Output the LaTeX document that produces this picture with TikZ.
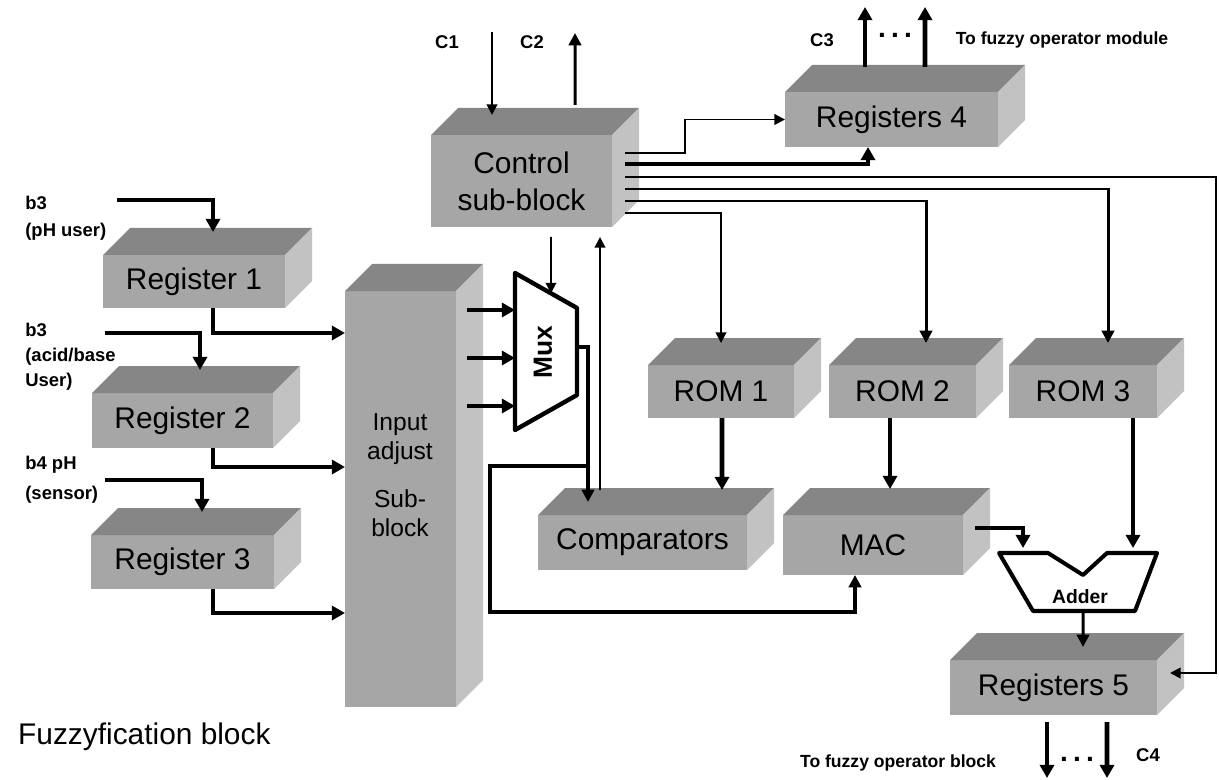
\documentclass[tikz,border=0pt]{standalone}
\usepackage{fontspec}
\setmainfont{Liberation Sans}
\usetikzlibrary{arrows.meta,calc}

\definecolor{frontgray}{RGB}{166,166,166}
\definecolor{topgray}{RGB}{134,134,134}
\definecolor{sidegray}{RGB}{194,194,194}

\tikzset{
  blk/.style 2 args={fill=frontgray, inner sep=0pt, outer sep=0pt,
    minimum width=#1*0.02cm, minimum height=#2*0.02cm,
    font=\fontsize{17}{21}\selectfont, align=center},
  lbl/.style={font=\fontsize{10.5}{15}\selectfont\bfseries, inner sep=0pt, align=left},
  thinarr/.style={line width=1.1pt, -{Triangle[length=6pt,width=6pt]}},
  medarr/.style={line width=1.7pt, -{Triangle[length=7pt,width=7pt]}},
  thickarr/.style={line width=2.8pt, -{Triangle[length=7.5pt,width=8pt]}},
}

% top and side faces of a block
\newcommand{\blockfaces}[1]{%
  \fill[topgray] (#1.north west) -- ++(27,-27) -- ([shift={(27,-27)}]#1.north east) -- (#1.north east) -- cycle;
  \fill[sidegray] (#1.north east) -- ++(27,-27) -- ([shift={(27,-27)}]#1.south east) -- (#1.south east) -- cycle;
}

\begin{document}
\begin{tikzpicture}[x=0.02cm, y=-0.02cm]
\useasboundingbox (0,0) rectangle (1219,780);

\node[blk={182}{53}] (reg1) at (194,281.5) {Register 1};
\node[blk={181}{55}] (reg2) at (182.5,420.5) {Register 2};
\node[blk={183}{54}] (reg3) at (182.5,562) {Register 3};
\node[blk={111}{416}] (adj) at (400.5,499) {};
\node[blk={181}{92}] (ctrl) at (521.5,181) {Control\\sub-block};
\node[blk={213}{55}] (reg4) at (891.5,119.5) {Registers 4};
\node[blk={146}{53}] (rom1) at (721,391.5) {ROM 1};
\node[blk={147}{53}] (rom2) at (902.5,391.5) {ROM 2};
\node[blk={148}{53}] (rom3) at (1083,391.5) {ROM 3};
\node[blk={209}{55}] (comp) at (642.5,542.5) {Comparators};
\node[blk={180}{60}] (mac) at (873,545) {MAC};
\node[blk={207}{55}] (reg5) at (1053.5,687.5) {Registers 5};

\foreach \b in {reg1,reg2,reg3,adj,ctrl,reg4,rom1,rom2,rom3,comp,mac,reg5}
  \blockfaces{\b};

\node[font=\fontsize{14}{16.5}\selectfont, align=center] (adjtxt) at (400,475) {Input\\adjust\\[0.38cm]Sub-\\block};

% mux and adder
\coordinate (mux1) at (515,273);
\coordinate (mux2) at (577,308);
\coordinate (mux3) at (577,395);
\coordinate (mux4) at (515,430);
\draw[line width=2.5pt, line join=round] (mux1) -- (mux2) -- (mux3) -- (mux4) -- cycle;
\node[rotate=90, font=\fontsize{15}{15}\selectfont\bfseries] (mux) at (543,352) {Mux};

\coordinate (ad1) at (999,553);
\coordinate (ad2) at (1048,553);
\coordinate (ad3) at (1083,575);
\coordinate (ad4) at (1107,553);
\coordinate (ad5) at (1157,553);
\coordinate (ad6) at (1135,611);
\coordinate (ad7) at (1033,611);
\draw[line width=2.3pt, line join=round] (ad1) -- (ad2) -- (ad3) -- (ad4) -- (ad5) -- (ad6) -- (ad7) -- cycle;
\node[font=\fontsize{11}{11}\selectfont\bfseries] (adder) at (1080,597) {Adder};

% free ends
\coordinate (c1in) at (492,32);
\coordinate (c2out) at (575,33);
\coordinate (r4out1) at (865,7);
\coordinate (r4out2) at (925,7);
\coordinate (b3a) at (117,200);
\coordinate (b3b) at (105,333);
\coordinate (b4) at (105,480);
\coordinate (r5out1) at (1047,778);
\coordinate (r5out2) at (1107,778);
\coordinate (jn) at (588,466);
\coordinate (muxsel) at ($(mux1)!0.58!(mux2)$);

% inputs and register outputs
\draw[thickarr] (b3a) -| ([shift={(19,-23)}]reg1.north);
\draw[thickarr] (b3b) -| ([shift={(17.5,-23)}]reg2.north);
\draw[thickarr] (b4) -| ([shift={(19.5,-23)}]reg3.north);
\draw[thickarr] ([shift={(19,0)}]reg1.south) |- ([shift={(0,-166)}]adj.west);
\draw[thickarr] ([shift={(30.5,0)}]reg2.south) |- ([shift={(0,-32)}]adj.west);
\draw[thickarr] ([shift={(30.5,0)}]reg3.south) |- ([shift={(0,114)}]adj.west);

\foreach \y in {310,358,406}
  \draw[thickarr] (adj.east |- 0,\y) ++(11,0) -- (mux1 |- 0,\y);

% control sub-block
\draw[thinarr] (c1in) -- ([shift={(-29.5,-20)}]ctrl.north);
\draw[medarr] ([shift={(53.5,-30)}]ctrl.north) -- (c2out);
\draw[thinarr] ([shift={(29.5,10)}]ctrl.south) -- (muxsel);
\draw[thinarr] ([shift={(62,-25)}]comp.north west) -- ([shift={(78.5,10)}]ctrl.south);
\draw[thinarr] ([shift={(13,18)}]ctrl.north east) -- ++(60,0) |- (reg4.west);
\draw[thickarr] ([shift={(13,29)}]ctrl.north east) -| ([shift={(-23.5,0)}]reg4.south);
\draw[thinarr] ([shift={(13,42)}]ctrl.north east) -- ++(591,0) |- ([shift={(13,-14.5)}]reg5.east);
\draw[medarr] ([shift={(13,54)}]ctrl.north east) -| ([shift={(25,-22)}]rom3.north);
\draw[medarr] ([shift={(13,66)}]ctrl.north east) -| ([shift={(23.5,-22)}]rom2.north);
\draw[thinarr] ([shift={(13,78)}]ctrl.north east) -| ([shift={(0,-22)}]rom1.north);

% mux output
\draw[line width=2.3pt] ([shift={(0,-48)}]mux3) -- ++(11,0) -- (jn);
\draw[medarr, line width=2.3pt] (jn) -- ([shift={(50,-13)}]comp.north west);
\draw[medarr, line width=2.3pt] (jn) -- (490,466) -- (490,612) -| ([shift={(-18,0)}]mac.south);

% datapath
\draw[thickarr] ([shift={(1,0)}]rom1.south) -- ([shift={(79.5,-25)}]comp.north);
\draw[thickarr] ([shift={(-12.5,0)}]rom2.south) -- ([shift={(17,-26)}]mac.north);
\draw[thickarr] ([shift={(50,0)}]rom3.south) -- ([shift={(26,-5)}]ad4);
\draw[thickarr] ([shift={(12,-17)}]mac.east) -| ([shift={(-25,-5)}]ad2);
\draw[medarr] (ad3 |- ad7) -- ([shift={(29.5,-13)}]reg5.north);

% outputs
\draw[thickarr] ([shift={(33.5,-25)}]reg4.north) -- (r4out2);
\draw[thickarr] ([shift={(-26.5,-25)}]reg4.north) -- (r4out1);
\draw[thickarr] ([shift={(-6.5,7)}]reg5.south) -- (r5out1);
\draw[thickarr] ([shift={(53.5,7)}]reg5.south) -- (r5out2);

% labels
\node[lbl] (lc1) at (447,42) {C1};
\node[lbl] (lc2) at (532,42) {C2};
\node[lbl] (lc3) at (822,40) {C3};
\node[lbl] (lc4) at (1148,755) {C4};
\node[lbl, font=\fontsize{16}{16}\selectfont\bfseries] (dots1) at (895,35) {.\hspace{3pt}.\hspace{3pt}.};
\node[lbl, font=\fontsize{16}{16}\selectfont\bfseries] (dots2) at (1077,759) {.\hspace{3pt}.\hspace{3pt}.};
\node[lbl, font=\fontsize{10}{12}\selectfont\bfseries] (tomod) at (1062,40) {To fuzzy operator module};
\node[lbl, font=\fontsize{10}{12}\selectfont\bfseries] (toblk) at (898,763) {To fuzzy operator block};
\node[lbl, anchor=west, font=\fontsize{10.5}{15.4}\selectfont\bfseries] (lb1) at (25,218) {b3\\(pH user)};
\node[lbl, anchor=west, font=\fontsize{10.5}{14.2}\selectfont\bfseries] (lb2) at (25,357) {b3\\(acid/base\\User)};
\node[lbl, anchor=west, font=\fontsize{10.5}{17}\selectfont\bfseries] (lb3) at (25,480) {b4 pH\\(sensor)};
\node[anchor=west, font=\fontsize{17}{20}\selectfont] (title) at (12,737) {Fuzzyfication block};

\end{tikzpicture}
\end{document}
